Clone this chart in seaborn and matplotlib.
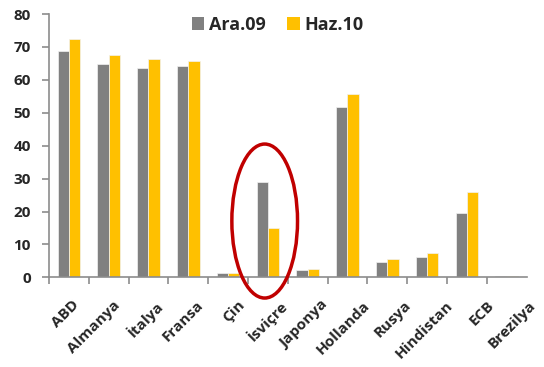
import matplotlib
matplotlib.use("Agg")
import matplotlib.pyplot as plt
from matplotlib.patches import Ellipse, Patch
from matplotlib.transforms import ScaledTranslation
import seaborn as sns
import pandas as pd

# Country labels and the two period series
countries = ["ABD", "Almanya", "İtalya", "Fransa", "Çin", "İsviçre", "Japonya",
             "Hollanda", "Rusya", "Hindistan", "ECB", "Brezilya"]
ara09 = [68.9, 64.7, 63.6, 64.3, 1.3, 28.9, 2.2, 51.8, 4.6, 6.3, 19.4, 0.3]
haz10 = [72.3, 67.6, 66.3, 65.8, 1.4, 15.0, 2.6, 55.8, 5.6, 7.3, 25.9, 0.3]
series_names = ["Ara.09", "Haz.10"]
y_ticks = [0, 10, 20, 30, 40, 50, 60, 70, 80]

colors = {"Ara.09": "#808080", "Haz.10": "#FFC000"}

df = pd.DataFrame({
    "ulke": countries * 2,
    "deger": ara09 + haz10,
    "donem": [series_names[0]] * len(countries) + [series_names[1]] * len(countries),
})

sns.set_style("white")
plt.rcParams["font.family"] = ["Open Sans", "DejaVu Sans"]

fig = plt.figure(figsize=(5.44, 3.67), dpi=100)
ax = fig.add_axes([0.090, 0.2444, 0.878, 0.7172])

sns.barplot(data=df, x="ulke", y="deger", hue="donem", palette=colors,
            saturation=1, width=0.57, gap=0, ax=ax, legend=False,
            edgecolor="#f2f2f2", linewidth=0.5)

ax.set_xlim(-0.5, len(countries) - 0.5)
ax.set_ylim(0, 80)
ax.set_yticks(y_ticks)
ax.set_xlabel("")
ax.set_ylabel("")

for s in ["top", "right"]:
    ax.spines[s].set_visible(False)
for s in ["left", "bottom"]:
    ax.spines[s].set_color("#8c8c8c")
    ax.spines[s].set_linewidth(1.2)

# y ticks outward on the left, x ticks at category boundaries
ax.tick_params(axis="y", length=5, width=1.2, color="#8c8c8c", direction="out",
               labelsize=11, left=True, pad=8)
ax.set_xticks(range(len(countries)))
ax.set_xticklabels(countries, rotation=45, ha="right", rotation_mode="anchor",
                   fontsize=11, fontweight="bold")
ax.tick_params(axis="x", length=0, pad=15)
for lbl in ax.get_yticklabels():
    lbl.set_fontweight("bold")
ax.set_xticks([i - 0.5 for i in range(len(countries))], minor=True)
ax.tick_params(axis="x", which="minor", length=5, width=1.2, color="#8c8c8c",
               direction="out", bottom=True)

# rotated labels fan out slightly to the right across the axis
for i, lbl in enumerate(ax.get_xticklabels()):
    shift_px = 3 + 1.7 * i
    lbl.set_transform(lbl.get_transform()
                      + ScaledTranslation(shift_px / fig.dpi, 0, fig.dpi_scale_trans))

# highlight around İsviçre
ell = Ellipse((4.92, 17.1), width=1.65, height=46.8, angle=0,
              fill=False, edgecolor="#C00000", linewidth=2.5, clip_on=False,
              zorder=5)
ax.add_patch(ell)

handles = [Patch(facecolor=colors[n], edgecolor="none", label=n) for n in series_names]
fig.legend(handles=handles, loc="center", bbox_to_anchor=(0.51, 0.932), ncol=2,
           frameon=False, prop={"weight": "bold", "size": 13},
           handlelength=0.7, handleheight=0.7, handletextpad=0.25,
           columnspacing=1.2)

fig.savefig("out.png", dpi=100)
